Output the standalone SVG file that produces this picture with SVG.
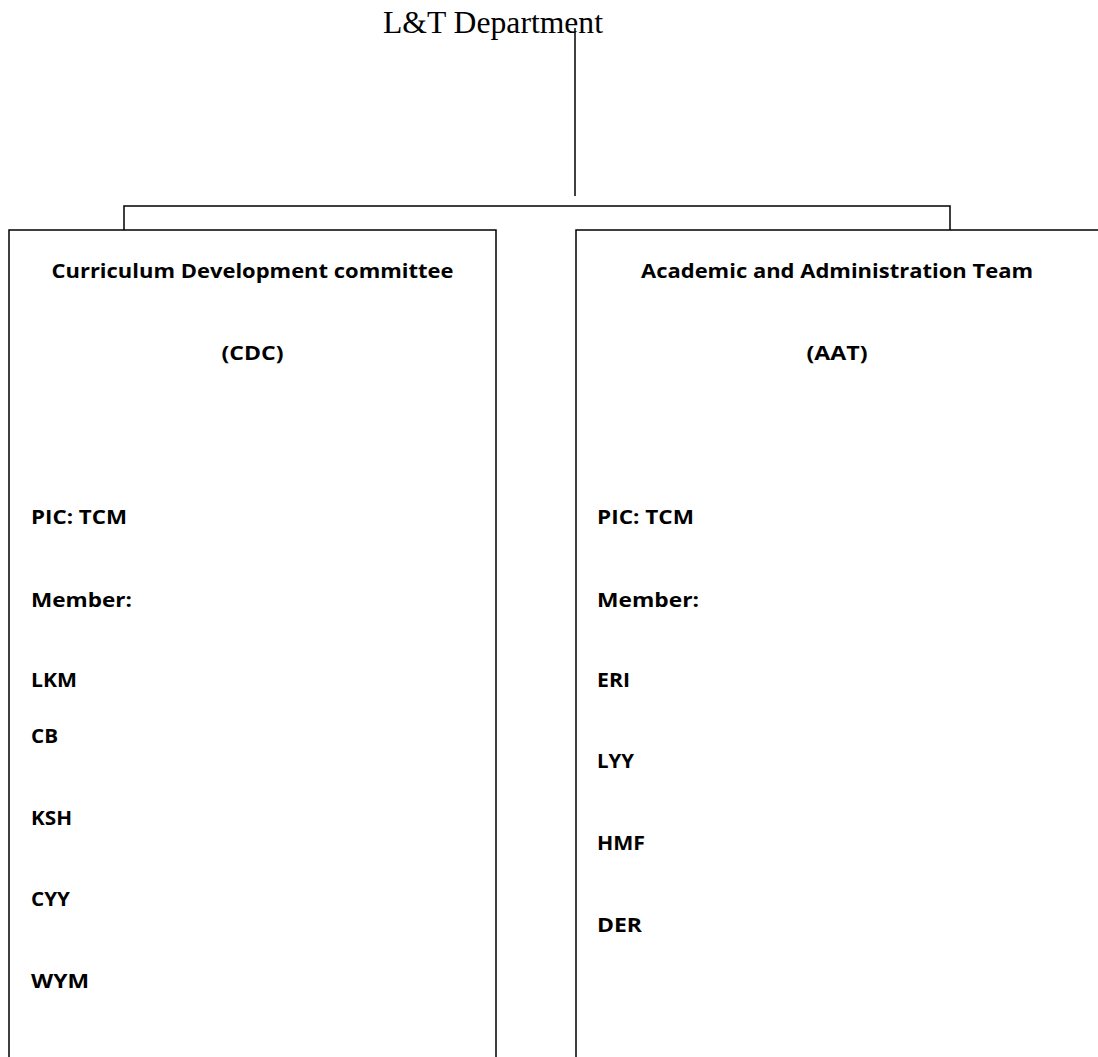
<svg xmlns="http://www.w3.org/2000/svg" width="1098" height="1057" viewBox="0 0 1098 1057">
<style>
.ln{fill:none;stroke:#000;stroke-width:1.5}
.t{font-family:"Open Sans","Lato","Liberation Sans",sans-serif;font-weight:bold;font-size:19px;fill:#000}
.h{font-family:"Liberation Serif","Times New Roman",serif;font-size:31px;fill:#000}
</style>
<rect width="1098" height="1057" fill="#fff"/>
<g id="root">
<text class="h" x="383" y="33" textLength="220" lengthAdjust="spacingAndGlyphs">L&amp;T Department</text>
</g>
<g id="connectors">
<path class="ln" d="M575 28V196"/>
<path class="ln" d="M124 230V206H950V230"/>
</g>
<g id="cdc">
<path class="ln" d="M9 1057V230H496V1057"/>
<text class="t" x="252.5" y="278" text-anchor="middle" textLength="402" lengthAdjust="spacingAndGlyphs">Curriculum Development committee</text>
<text class="t" x="252.5" y="360" text-anchor="middle" textLength="62" lengthAdjust="spacingAndGlyphs">(CDC)</text>
<text class="t" x="31" y="524" textLength="96" lengthAdjust="spacingAndGlyphs">PIC: TCM</text>
<text class="t" x="31" y="607" textLength="101" lengthAdjust="spacingAndGlyphs">Member:</text>
<text class="t" x="31" y="687" textLength="46" lengthAdjust="spacingAndGlyphs">LKM</text>
<text class="t" x="31" y="743" textLength="27" lengthAdjust="spacingAndGlyphs">CB</text>
<text class="t" x="31" y="825" textLength="41" lengthAdjust="spacingAndGlyphs">KSH</text>
<text class="t" x="31" y="906" textLength="39" lengthAdjust="spacingAndGlyphs">CYY</text>
<text class="t" x="31" y="988" textLength="58" lengthAdjust="spacingAndGlyphs">WYM</text>
</g>
<g id="aat">
<path class="ln" d="M576 1057V230H1098"/>
<text class="t" x="837" y="278" text-anchor="middle" textLength="392" lengthAdjust="spacingAndGlyphs">Academic and Administration Team</text>
<text class="t" x="837" y="360" text-anchor="middle" textLength="61" lengthAdjust="spacingAndGlyphs">(AAT)</text>
<text class="t" x="597" y="524" textLength="97" lengthAdjust="spacingAndGlyphs">PIC: TCM</text>
<text class="t" x="597" y="607" textLength="102" lengthAdjust="spacingAndGlyphs">Member:</text>
<text class="t" x="597" y="687" textLength="33" lengthAdjust="spacingAndGlyphs">ERI</text>
<text class="t" x="597" y="768" textLength="37" lengthAdjust="spacingAndGlyphs">LYY</text>
<text class="t" x="597" y="850" textLength="48" lengthAdjust="spacingAndGlyphs">HMF</text>
<text class="t" x="597" y="932" textLength="45" lengthAdjust="spacingAndGlyphs">DER</text>
</g>
</svg>
